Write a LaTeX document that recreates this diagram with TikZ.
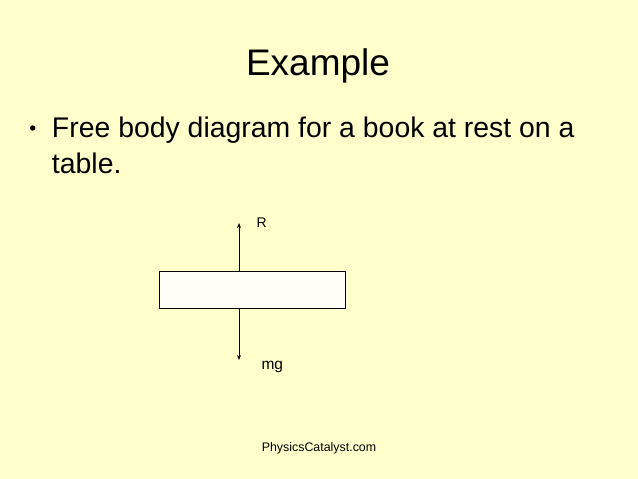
\documentclass[tikz,border=0pt]{standalone}
\usepackage{fontspec}
\setmainfont{Liberation Sans}
\usetikzlibrary{arrows.meta}
\definecolor{slidebg}{HTML}{FFFFCC}
\tikzset{
  txt/.style={inner sep=0pt, outer sep=0pt, text=black},
  force/.style={line width=0.9pt, -{Stealth[length=5pt,width=4pt]}},
  bookbox/.style={draw=black, line width=1pt, fill=white!85!slidebg, minimum width=186pt, minimum height=37pt, inner sep=0pt}
}
\begin{document}
\begin{tikzpicture}[x=1pt,y=-1pt]
\fill[slidebg] (0,0) rectangle (638,479);
\useasboundingbox (0,0) rectangle (638,479);
% title
\node[txt, anchor=base, font=\fontsize{37}{37}\selectfont] (title) at (318,75) {Example};
% bullet
\fill[black] (32.7,128) circle (2.7pt);
\node[txt, anchor=base west, font=\fontsize{28.4}{28}\selectfont] (line1) at (52,137) {Free body diagram for a book at rest on a};
\node[txt, anchor=base west, font=\fontsize{28.4}{28}\selectfont] (line2) at (52,173) {table.};
% free body diagram
\node[bookbox] (book) at (252.3,289.7) {};
\coordinate (Rtip) at (239,223);
\coordinate (Wtip) at (239,360);
\draw[force] (book.north -| Rtip) -- (Rtip);
\draw[force] (book.south -| Wtip) -- (Wtip);
\node[txt, anchor=base west, font=\fontsize{14}{14}\selectfont] (R) at (256.5,227) {R};
\node[txt, anchor=base west, font=\fontsize{15.5}{15}\selectfont] (mg) at (261.5,369) {mg};
% footer
\node[txt, anchor=base, font=\fontsize{12.4}{12}\selectfont] (footer) at (319,451) {PhysicsCatalyst.com};
\end{tikzpicture}
\end{document}
